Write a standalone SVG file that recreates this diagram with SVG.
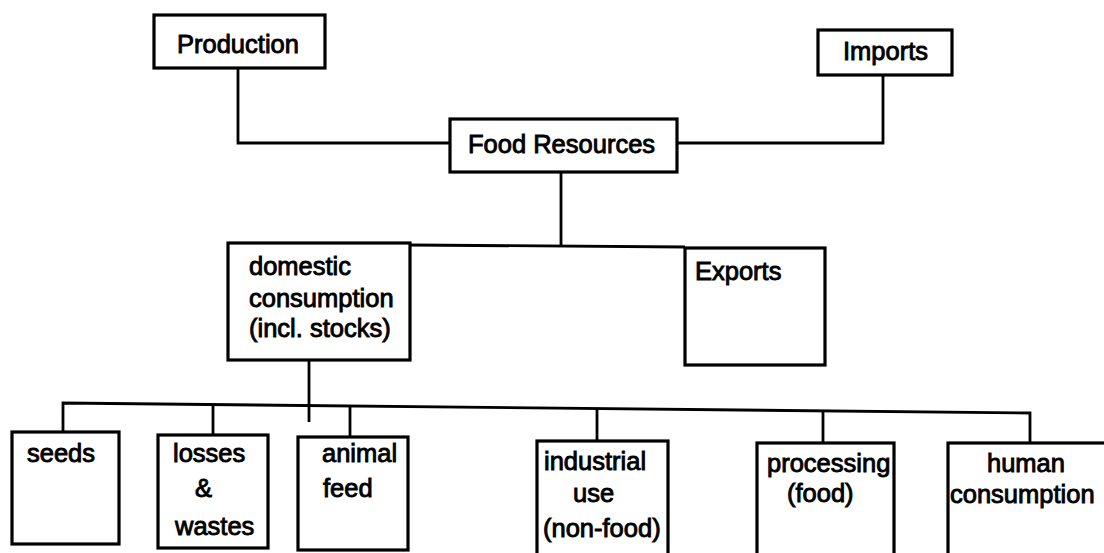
<svg xmlns="http://www.w3.org/2000/svg" width="1104" height="553" viewBox="0 0 1104 553">
<style>
.box{fill:#fff;stroke:#000;stroke-width:3.2}
.ln{fill:none;stroke:#000;stroke-width:2.8;stroke-linejoin:miter}
text{font-family:"Liberation Sans",Arial,sans-serif;font-size:25.5px;fill:#000;stroke:#000;stroke-width:0.9}
</style>
<rect width="1104" height="553" fill="#fff"/>
<g id="connectors">
<polyline class="ln" points="238,68 238,143 450,143"/>
<polyline class="ln" points="883,75 883,143 677,143"/>
<line class="ln" x1="561" y1="172" x2="561" y2="245"/>
<polyline class="ln" points="410,245 685,247"/>
<line class="ln" x1="309" y1="360" x2="309" y2="422"/>
<polyline class="ln" points="63,432 63,403 1030,413 1030,443"/>
<line class="ln" x1="213" y1="404" x2="213" y2="435"/>
<line class="ln" x1="350" y1="405" x2="350" y2="437"/>
<line class="ln" x1="597" y1="408" x2="597" y2="441"/>
<line class="ln" x1="823" y1="411" x2="823" y2="443"/>
</g>
<g id="production"><rect class="box" x="154" y="15" width="171" height="53"/><text x="177" y="53">Production</text></g>
<g id="imports"><rect class="box" x="818" y="30" width="134" height="45"/><text x="843" y="60">Imports</text></g>
<g id="food-resources"><rect class="box" x="450" y="119" width="227" height="53"/><text x="468" y="153">Food Resources</text></g>
<g id="domestic"><rect class="box" x="228" y="243" width="182" height="117"/><text x="249" y="275">domestic</text><text x="249" y="307">consumption</text><text x="249" y="337">(incl. stocks)</text></g>
<g id="exports"><rect class="box" x="685" y="248" width="140" height="117"/><text x="695" y="280">Exports</text></g>
<g id="seeds"><rect class="box" x="12" y="432" width="107" height="112"/><text x="27" y="462">seeds</text></g>
<g id="losses"><rect class="box" x="158" y="435" width="110" height="113"/><text x="173" y="462">losses</text><text x="195" y="497">&amp;</text><text x="175" y="535">wastes</text></g>
<g id="animal-feed"><rect class="box" x="298" y="437" width="110" height="113"/><text x="322" y="462">animal</text><text x="323" y="497">feed</text></g>
<g id="industrial"><rect class="box" x="537" y="441" width="131" height="114"/><text x="544" y="470">industrial</text><text x="573" y="502">use</text><text x="543" y="537">(non-food)</text></g>
<g id="processing"><rect class="box" x="757" y="443" width="137" height="114"/><text x="767" y="472">processing</text><text x="787" y="502">(food)</text></g>
<g id="human"><rect class="box" x="948" y="443" width="170" height="114"/><text x="987" y="472">human</text><text x="950" y="503">consumption</text></g>
</svg>
